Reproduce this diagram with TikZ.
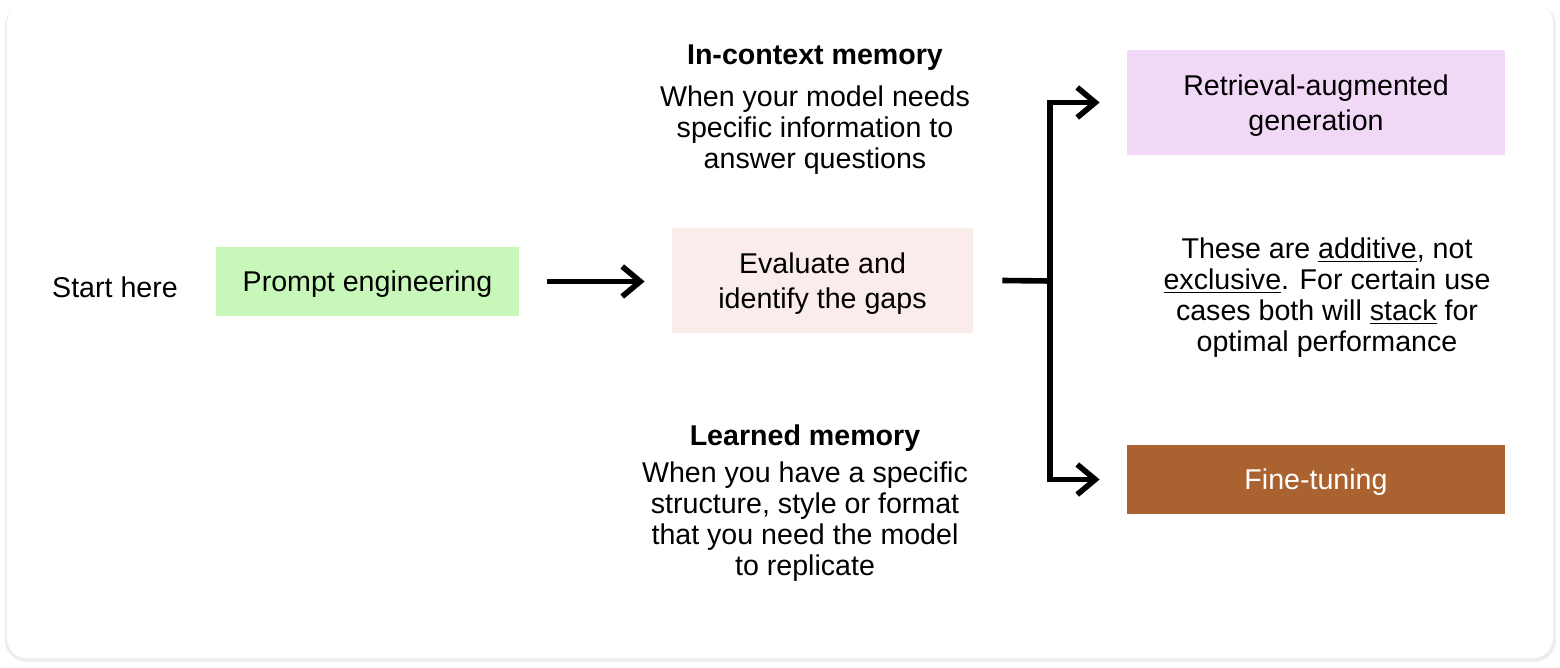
\documentclass[tikz,border=0pt]{standalone}
\usepackage{fontspec}
\setmainfont{Liberation Sans}
\usetikzlibrary{arrows.meta, positioning}
\definecolor{pgreen}{HTML}{C8F8B9}
\definecolor{ppink}{HTML}{F9ECEB}
\definecolor{plilac}{HTML}{F2D8F7}
\definecolor{pbrown}{HTML}{AB6231}

\begin{document}
\begin{tikzpicture}[x=0.5pt, y=-0.5pt,
  txt/.style={font=\fontsize{14.3}{15.5}\selectfont, align=center, inner sep=0pt, text depth=0pt},
  ttl/.style={font=\fontsize{14.3}{15.5}\selectfont\bfseries, inner sep=0pt, text depth=0pt},
  stepbox/.style={font=\fontsize{14.3}{17.5}\selectfont, align=center, inner sep=0pt, text depth=0pt},
  flow/.style={line width=2.8pt, -{Straight Barb[length=9pt, width=15pt]}}]
\useasboundingbox (0,0) rectangle (1560,668);
% card
\fill[black!7, rounded corners=11pt] (5,4) rectangle (1556,662);
\fill[white, rounded corners=10pt] (7,3) rectangle (1553,658);

\node[txt] (start) at (115,287) {Start here};
\node[stepbox, fill=pgreen, minimum width=151.5pt, minimum height=34.5pt]
  (prompt) at (367.5,281.5) {Prompt engineering};
\node[stepbox, fill=ppink, minimum width=150.5pt, minimum height=52.5pt]
  (eval) at (822.5,280.5) {Evaluate and\\identify the gaps};
\node[stepbox, fill=plilac, minimum width=189pt, minimum height=52.5pt]
  (rag) at (1316,102.5) {Retrieval-augmented\\generation};
\node[stepbox, fill=pbrown, text=white, minimum width=189pt, minimum height=34.5pt]
  (ft) at (1316,479.5) {Fine-tuning};

% memory notes
\node[ttl] (ictx) at (815,55) {In-context memory};
\node[txt] (ictxnote) at (815,127) {When your model needs\\specific information to\\answer questions};
\node[ttl] (lrn) at (805,435) {Learned memory};
\node[txt] (lrnnote) at (805,518.5) {When you have a specific\\structure, style or format\\that you need the model\\to replicate};
\node[txt] (stack) at (1327,294.5) {These are \underline{additive}, not\\\underline{exclusive}. For certain use\\cases both will \underline{stack} for\\optimal performance};

% connectors
\draw[flow] ([xshift=14pt]prompt.east) -- ([xshift=-13.5pt]eval.west |- prompt.east);
\coordinate (fork) at (1050,281);
\draw[line width=2.8pt] ([xshift=14.5pt]eval.east) -- (fork);
\draw[flow] (fork) |- ([xshift=-13.5pt]rag.west);
\draw[flow] (fork) |- ([xshift=-13.5pt]ft.west);
\end{tikzpicture}
\end{document}
